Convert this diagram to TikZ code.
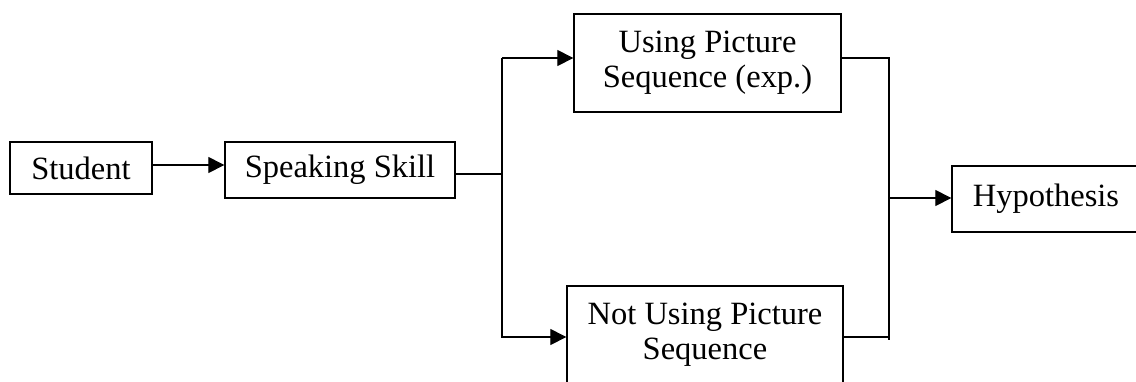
\documentclass[tikz,border=0pt]{standalone}
\usepackage{fontspec}
\setmainfont{Liberation Serif}
\usetikzlibrary{arrows.meta}
\begin{document}
\begin{tikzpicture}[x=1pt,y=-1pt,
  box/.style={draw,line width=1.3pt,inner sep=0pt,align=center,font=\fontsize{32.5}{35}\selectfont},
  conn/.style={line width=1.1pt},
  arr/.style={conn,-{Triangle[length=16pt,width=16pt]}}]
\useasboundingbox (0,0) rectangle (1136,381);
\clip (0,0) rectangle (1136,381);
\node[box,minimum width=142pt,minimum height=52pt] (st) at (81,168) {Student};
\node[box,minimum width=230pt,minimum height=56pt] (sp) at (340,170) {Speaking Skill};
\node[box,minimum width=267pt,minimum height=98pt] (us) at (707.5,63) {Using Picture\\Sequence (exp.)};
\node[box,minimum width=276pt,minimum height=98pt] (nu) at (705,335) {Not Using Picture\\Sequence};
\node[box,minimum width=188pt,minimum height=66pt] (hy) at (1046,199) {Hypothesis};
\coordinate (lm) at (502,174);
\coordinate (lt) at (502,58);
\coordinate (lb) at (502,338);
\coordinate (rt) at (889,58);
\coordinate (rb) at (889,340);
\coordinate (rm) at (889,198);
\draw[arr] (st.east |- 0,165) -- (sp.west |- 0,165);
\draw[conn] (sp.east |- lm) -- (lm);
\draw[conn] (lt) -- (lb);
\draw[arr] (lt) -- (us.west |- lt);
\draw[arr] (lb) ++(0,-1) -- (nu.west |- 0,337);
\draw[conn] (us.east |- rt) -- (rt) -- (rb);
\draw[conn] (nu.east |- 0,337) -- (889,337);
\draw[arr] (rm) -- (hy.west |- rm);
\end{tikzpicture}
\end{document}
